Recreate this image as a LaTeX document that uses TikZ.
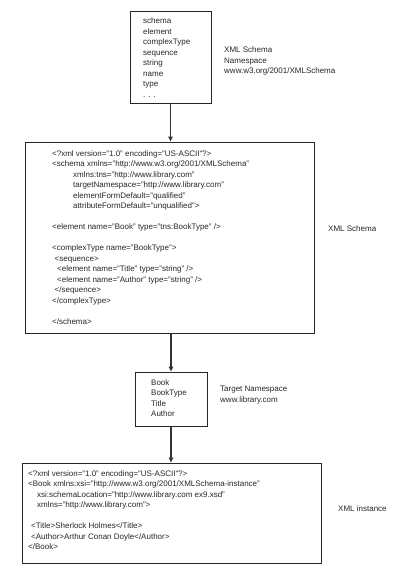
\documentclass[tikz,border=0pt]{standalone}
\usepackage{fontspec}
\setmainfont{Liberation Sans}
\usetikzlibrary{arrows.meta}
\begin{document}
\begin{tikzpicture}[x=1pt,y=1pt,
  box/.style={draw=black!85,line width=0.8pt,inner sep=0pt},
  txt/.style={anchor=north west,inner sep=0pt,align=left,text=black!85,font=\fontsize{8}{10.5}\selectfont},
  conn/.style={draw=black!80,line width=1.2pt,-{Triangle[length=5pt,width=4.5pt]}}]
\useasboundingbox (0,0) rectangle (414,-568);
% boxes
\node[box,minimum width=81pt,minimum height=92pt] (b1) at (170.5,-57) {};
\node[box,minimum width=289pt,minimum height=191pt] (b2) at (169.5,-237.5) {};
\node[box,minimum width=72pt,minimum height=54pt] (b3) at (171,-399) {};
\node[box,minimum width=299pt,minimum height=100pt] (b4) at (171.5,-513) {};
% box texts
\node[txt] (t1) at (143,-17.7) {schema\\element\\complexType\\sequence\\string\\name\\type\\. . .};
\node[txt] (t2) at (52,-150) {<?xml version="1.0" encoding="US-ASCII"?>\\
<schema xmlns="http://www.w3.org/2001/XMLSchema"\\
\hspace{21pt}xmlns:tns="http://www.library.com"\\
\hspace{21pt}targetNamespace="http://www.library.com"\\
\hspace{21pt}elementFormDefault="qualified"\\
\hspace{21pt}attributeFormDefault="unqualified">\\[10.5pt]
<element name="Book" type="tns:BookType" />\\[10.5pt]
<complexType name="BookType">\\
\hspace{2.5pt}<sequence>\\
\hspace{5pt}<element name="Title" type="string" />\\
\hspace{5pt}<element name="Author" type="string" />\\
\hspace{2.5pt}</sequence>\\
</complexType>\\[10.5pt]
</schema>};
\node[txt] (t3) at (151,-379) {Book\\BookType\\Title\\Author};
\node[txt] (t4) at (28,-470) {<?xml version="1.0" encoding="US-ASCII"?>\\
<Book xmlns:xsi="http://www.w3.org/2001/XMLSchema-instance"\\
\hspace{9pt}xsi:schemaLocation="http://www.library.com ex9.xsd"\\
\hspace{9pt}xmlns="http://www.library.com">\\[10.5pt]
\hspace{3pt}<Title>Sherlock Holmes</Title>\\
\hspace{3pt}<Author>Arthur Conan Doyle</Author>\\
</Book>};
% side labels
\node[txt] (l1) at (224,-47) {XML Schema\\Namespace\\www.w3.org/2001/XMLSchema};
\node[txt] (l2) at (328,-225) {XML Schema};
\node[txt] (l3) at (220,-386) {Target Namespace\\www.library.com};
\node[txt] (l4) at (338,-505) {XML instance};
% connectors
\draw[conn] (b1.south) -- (b1.south |- b2.north);
\draw[conn] (b2.south -| b3.north) -- (b3.north);
\draw[conn] (b3.south) -- (b3.south |- b4.north);
\end{tikzpicture}
\end{document}
